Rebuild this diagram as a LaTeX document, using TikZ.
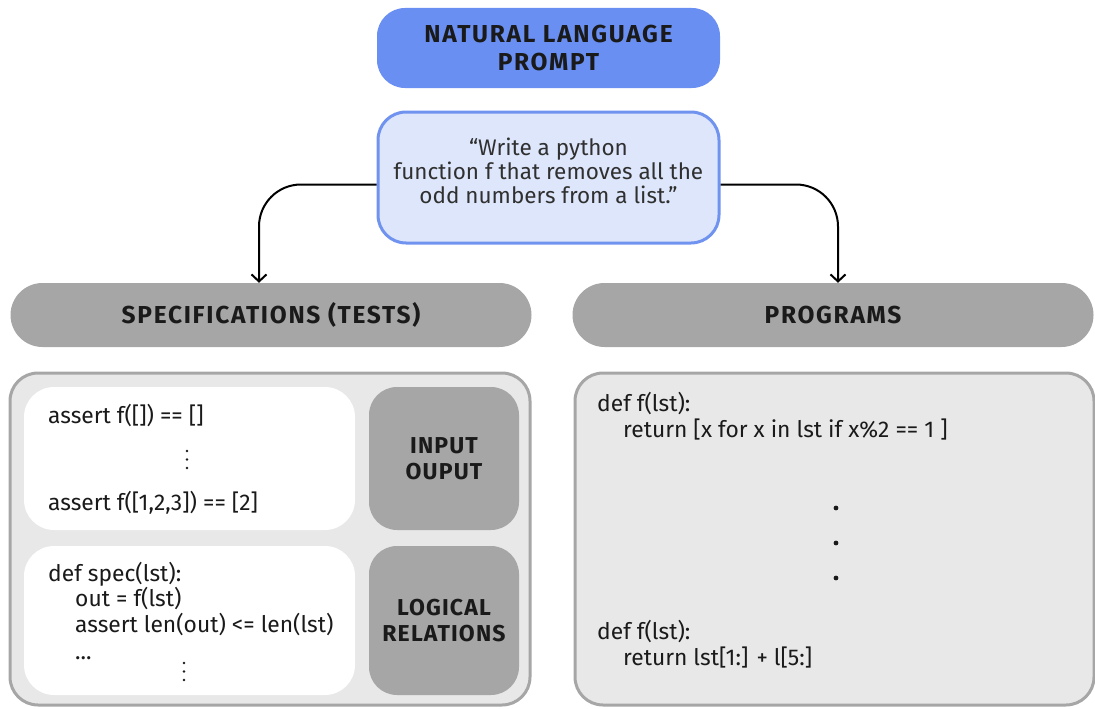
\documentclass[tikz,border=0pt]{standalone}
\usepackage{fontspec}
\setmainfont{Fira Sans}
\newfontfamily\headfont[LetterSpace=7]{Fira Sans Bold}
\newfontfamily\tagfont[LetterSpace=5]{Fira Sans Bold}
\usetikzlibrary{arrows.meta,calc}

\definecolor{titleblue}{RGB}{106,143,242}
\definecolor{promptfill}{RGB}{221,230,250}
\definecolor{promptline}{RGB}{112,147,240}
\definecolor{headgray}{RGB}{166,166,166}
\definecolor{panelfill}{RGB}{232,232,232}
\definecolor{ink}{RGB}{26,26,26}
\definecolor{softink}{RGB}{48,48,48}

\begin{document}
\begin{tikzpicture}[x=1pt,y=-1pt,
  titlebox/.style={fill=titleblue, rounded corners=28pt, inner sep=0pt,
    minimum width=343pt, minimum height=80pt, align=center, text=ink,
    font=\headfont\fontsize{24.5}{28}\selectfont},
  promptbox/.style={fill=promptfill, draw=promptline, line width=3pt,
    rounded corners=28pt, inner sep=0pt, minimum width=341pt, minimum height=131pt},
  prompttext/.style={align=center, inner sep=0pt, text=softink,
    font=\fontsize{22.5}{24}\selectfont},
  headbox/.style={fill=headgray, rounded corners=32pt, inner sep=0pt,
    minimum width=521pt, minimum height=64pt, text=ink,
    font=\headfont\fontsize{24.5}{28}\selectfont},
  panel/.style={fill=panelfill, draw=headgray, line width=3pt,
    rounded corners=28pt, inner sep=0pt, minimum height=332pt},
  whitebox/.style={fill=white, rounded corners=30pt, inner sep=0pt, minimum width=331pt},
  graybox/.style={fill=headgray, rounded corners=28pt, inner sep=0pt, minimum width=150pt,
    align=center, text=ink, font=\tagfont\fontsize{23}{26}\selectfont},
  code/.style={anchor=west, inner sep=0pt, text height=14pt, text depth=4pt,
    text=ink, font=\fontsize{22.8}{26}\selectfont},
  flow/.style={draw=black, line width=2pt, rounded corners=42pt,
    -{Straight Barb[length=7pt,width=15pt,line width=2pt]}},
  dot/.style={fill=ink}
]
\useasboundingbox (0,0) rectangle (1095,709);

% prompt at the top
\node[titlebox] (nl) at (548.5,48) {NATURAL LANGUAGE\\PROMPT};
\node[promptbox] (prompt) at (548.5,177.5) {};
\node[prompttext] (ptext) at (548.5,171)
  {“Write a python\\function f that removes all the\\odd numbers from a list.”};

% column headers
\node[headbox] (spec) at (271,315) {SPECIFICATIONS (TESTS)};
\node[headbox] (progs) at (833,315) {PROGRAMS};

% arrows from the prompt to both columns
\draw[flow] ([yshift=-7pt]prompt.west) -| ([xshift=-12pt]spec.north);
\draw[flow] ([yshift=-7pt]prompt.east) -| ([xshift=5pt]progs.north);

% specifications panel
\node[panel, minimum width=520pt] (specpanel) at (270,539) {};
\node[whitebox, minimum height=143pt] (io) at (189.5,458.5) {};
\node[graybox, minimum height=143pt] (iotag) at (444,458.5) {INPUT\\OUPUT};
\node[whitebox, minimum height=149pt] (logic) at (189.5,620.5) {};
\node[graybox, minimum height=149pt] (logictag) at (444,620.5) {LOGICAL\\RELATIONS};

\node[code] (t1) at (48,418) {assert f([]) == []};
\node[code] (t2) at (48,505) {assert f([1,2,3]) == [2]};
\foreach \y in {451,459.5,468} \fill[dot] (187,\y) circle (1.3pt);

\node[code] (s1) at (48,576) {def spec(lst):};
\node[code] (s2) at (75,601) {out = f(lst)};
\node[code] (s3) at (75,627) {assert len(out) <= len(lst)};
\node[code] (s4) at (75,654) {...};
\foreach \y in {663,671.5,680} \fill[dot] (184,\y) circle (1.3pt);

% programs panel
\node[panel, minimum width=519pt] (progpanel) at (834.5,539) {};
\node[code] (p1) at (597,406) {def f(lst):};
\node[code] (p2) at (623,432) {return [x for x in lst if x\%2 == 1 ]};
\foreach \y in {508,543,578} \fill[dot] (836,\y) circle (2.4pt);
\node[code] (p3) at (597,634) {def f(lst):};
\node[code] (p4) at (623,660) {return lst[1:] + l[5:]};
\end{tikzpicture}
\end{document}
